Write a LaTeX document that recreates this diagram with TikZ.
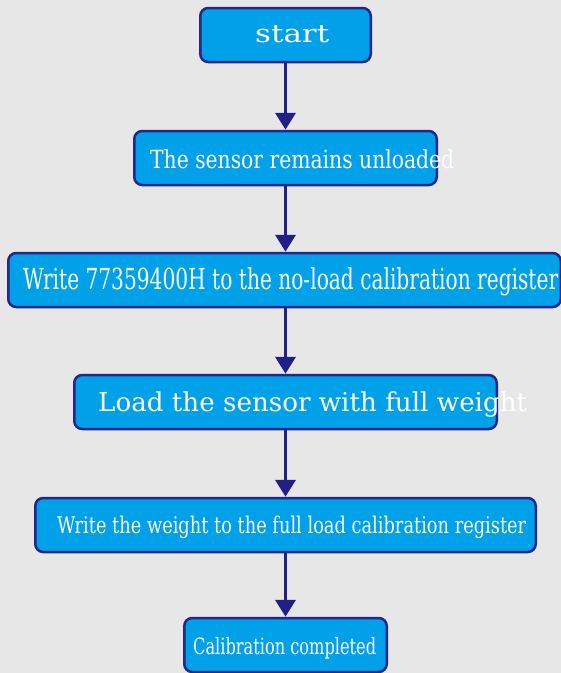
\documentclass[tikz,border=0pt]{standalone}
\usepackage{fontspec}
\setmainfont{DejaVu Serif}
\usetikzlibrary{arrows.meta}
\definecolor{bg}{RGB}{231,231,231}
\definecolor{b1}{RGB}{0,161,233}
\definecolor{b2}{RGB}{36,38,140}
\definecolor{a1}{RGB}{33,31,136}
\newcommand{\squeeze}[2]{\resizebox{#1}{\height}{#2}}

\begin{document}
\begin{tikzpicture}[
    x=1pt, y=-1pt,
    stepbox/.style={
        draw=b2, line width=2.5pt, fill=b1,
        rounded corners=8pt, inner sep=0pt,
        minimum height=54pt
    },
    txt/.style={
        text=white, inner sep=0pt, anchor=base west
    },
    link/.style={
        draw=a1, line width=3.8pt,
        -{Triangle[width=20pt,length=17pt]}
    }
]

    \fill[bg] (0,0) rectangle (561,673);
    \useasboundingbox (0,0) rectangle (561,673);

    % boxes
    \node[stepbox, minimum width=170.5pt] (start) at (285.5,35) {};
    \node[stepbox, minimum width=302.5pt] (unloaded) at (285.5,158) {};
    \node[stepbox, minimum width=552.5pt] (noload) at (284.5,280) {};
    \node[stepbox, minimum width=422.5pt] (load) at (285.5,402) {};
    \node[stepbox, minimum width=500.5pt] (full) at (285.5,525) {};
    \node[stepbox, minimum width=202.5pt] (done) at (285.5,645) {};

    % texts, they run over the box edge as in the source
    \node[txt, font=\fontsize{25}{30}\selectfont] (start-t) at (255,42)
        {\squeeze{74pt}{start}};
    \node[txt, font=\fontsize{25}{30}\selectfont] (unloaded-t) at (150,168)
        {\squeeze{304pt}{The sensor remains unloaded}};
    \node[txt, font=\fontsize{29}{34}\selectfont] (noload-t) at (23,289)
        {\squeeze{535pt}{Write 77359400H to the no-load calibration register}};
    \node[txt, font=\fontsize{26}{31}\selectfont] (load-t) at (98,411)
        {\squeeze{429pt}{Load the sensor with full weight}};
    \node[txt, font=\fontsize{23}{28}\selectfont] (full-t) at (57,533)
        {\squeeze{469pt}{Write the weight to the full load calibration register}};
    \node[txt, font=\fontsize{22.5}{27}\selectfont] (done-t) at (193,654)
        {\squeeze{183pt}{Calibration completed}};

    \draw[link] (start.south) -- (start.south |- unloaded.north);
    \draw[link] (start.south |- unloaded.south) -- (start.south |- noload.north);
    \draw[link] (start.south |- noload.south) -- (start.south |- load.north);
    \draw[link] (start.south |- load.south) -- (start.south |- full.north);
    \draw[link] (start.south |- full.south) -- (start.south |- done.north);

\end{tikzpicture}
\end{document}
